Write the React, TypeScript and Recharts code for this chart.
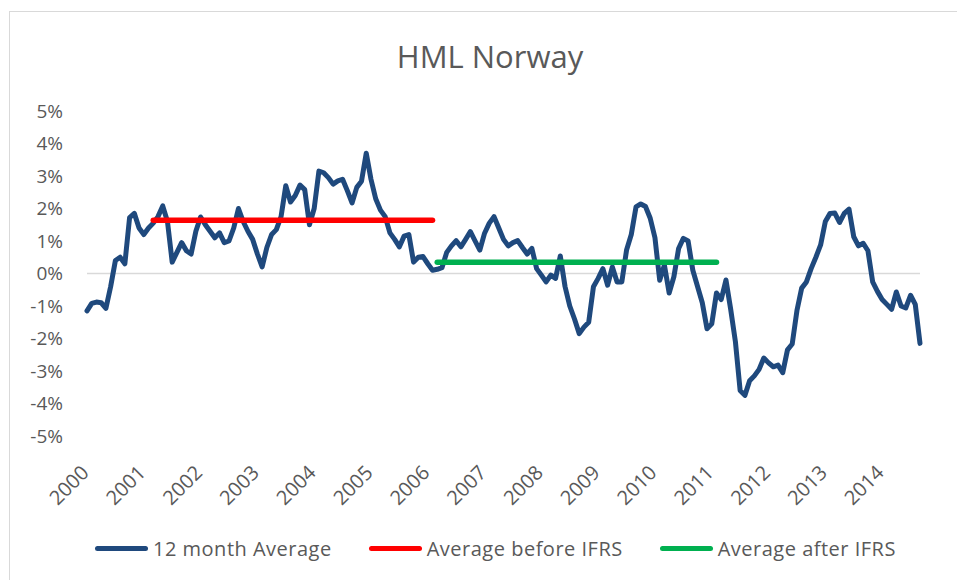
import { LineChart, Line, XAxis, YAxis, Legend, ReferenceLine } from "recharts";

// 12 month average HML return (%), one array per year, Jan..Dec
const y2000 = [-1.15, -0.92, -0.88, -0.9, -1.07, -0.4, 0.4, 0.5, 0.3, 1.72, 1.85, 1.4];
const y2001 = [1.2, 1.4, 1.55, 1.75, 2.08, 1.6, 0.35, 0.65, 0.95, 0.7, 0.6, 1.3];
const y2002 = [1.74, 1.5, 1.3, 1.1, 1.25, 0.95, 1.0, 1.4, 2.0, 1.6, 1.3, 1.05];
const y2003 = [0.6, 0.2, 0.8, 1.2, 1.35, 1.75, 2.7, 2.2, 2.4, 2.72, 2.58, 1.5];
const y2004 = [2.0, 3.15, 3.1, 2.95, 2.75, 2.85, 2.9, 2.55, 2.17, 2.65, 2.84, 3.7];
const y2005 = [2.9, 2.3, 1.95, 1.75, 1.25, 1.05, 0.82, 1.15, 1.2, 0.35, 0.5, 0.52];
const y2006 = [0.3, 0.1, 0.13, 0.18, 0.65, 0.85, 1.01, 0.82, 1.05, 1.29, 1.0, 0.72];
const y2007 = [1.24, 1.55, 1.75, 1.4, 1.05, 0.85, 0.95, 1.01, 0.8, 0.6, 0.77, 0.15];
const y2008 = [-0.05, -0.26, -0.05, -0.15, 0.54, -0.4, -1.0, -1.4, -1.85, -1.65, -1.5, -0.41];
const y2009 = [-0.15, 0.15, -0.36, 0.2, -0.26, -0.26, 0.72, 1.2, 2.05, 2.14, 2.06, 1.7];
const y2010 = [1.1, -0.21, 0.26, -0.6, -0.1, 0.77, 1.08, 1.0, 0.1, -0.4, -0.9, -1.7];
const y2011 = [-1.55, -0.6, -0.8, -0.2, -1.1, -2.1, -3.6, -3.75, -3.3, -3.15, -2.95, -2.6];
const y2012 = [-2.75, -2.87, -2.82, -3.05, -2.35, -2.17, -1.14, -0.45, -0.26, 0.15, 0.5, 0.88];
const y2013 = [1.6, 1.85, 1.86, 1.57, 1.85, 1.98, 1.13, 0.85, 0.93, 0.7, -0.26, -0.55];
const y2014 = [-0.8, -0.95, -1.1, -0.57, -1.0, -1.06, -0.67, -0.95, -2.15];

const years = [2000, 2001, 2002, 2003, 2004, 2005, 2006, 2007, 2008, 2009, 2010, 2011, 2012, 2013, 2014];
const yearValues = [y2000, y2001, y2002, y2003, y2004, y2005, y2006, y2007, y2008, y2009, y2010, y2011, y2012, y2013, y2014];

// averages before / after IFRS and the months they cover
const avgBefore = 1.64;
const beforeFrom = "2001-03";
const beforeTo = "2006-02";
const avgAfter = 0.35;
const afterFrom = "2006-03";
const afterTo = "2011-02";

const yTicks = [-5, -4, -3, -2, -1, 0, 1, 2, 3, 4, 5];

const data = years.flatMap((yr, yi) =>
  yearValues[yi].map((v, m) => {
    const month = `${yr}-${String(m + 1).padStart(2, "0")}`;
    return {
      month,
      hml: v,
      before: month >= beforeFrom && month <= beforeTo ? avgBefore : null,
      after: month >= afterFrom && month <= afterTo ? avgAfter : null,
    };
  })
);

const xTicks = years.map((yr) => `${yr}-01`);

const FONT = "'Open Sans', sans-serif";
const GREY = "#595959";

const legendItems = [
  { label: "12 month Average", color: "#1f497d" },
  { label: "Average before IFRS", color: "#ff0000" },
  { label: "Average after IFRS", color: "#00b050" },
];

const YearTick = (props: any) => {
  const { x, y, payload } = props;
  return (
    <g transform={`translate(${x + 3},${y + 30})`}>
      <text
        x={0}
        y={0}
        textAnchor="end"
        transform="rotate(-45)"
        fill={GREY}
        fontSize={20}
        fontFamily={FONT}
      >
        {payload.value.slice(0, 4)}
      </text>
    </g>
  );
};

const LegendBox = () => (
  <div
    style={{
      display: "flex",
      alignItems: "center",
      height: 24,
      paddingLeft: 95,
      fontFamily: FONT,
      fontSize: 20,
      letterSpacing: 0.5,
      color: GREY,
      whiteSpace: "nowrap",
    }}
  >
    {legendItems.map((it) => (
      <div key={it.label} style={{ display: "flex", alignItems: "center", marginRight: 37 }}>
        <span
          style={{
            display: "inline-block",
            width: 53,
            height: 5,
            borderRadius: 3,
            background: it.color,
            marginRight: 5,
          }}
        />
        <span>{it.label}</span>
      </div>
    ))}
  </div>
);

export default function App() {
  return (
    <div
      style={{
        position: "absolute",
        left: 0,
        top: 0,
        width: 957,
        height: 580,
        overflow: "hidden",
        background: "#fff",
      }}
    >
      <div
        style={{
          position: "absolute",
          left: 9,
          top: 11,
          width: 1000,
          height: 600,
          border: "1px solid #d9d9d9",
        }}
      />
      <div
        style={{
          position: "absolute",
          left: 0,
          width: 980,
          top: 35,
          textAlign: "center",
          fontFamily: FONT,
          fontSize: 31,
          color: GREY,
        }}
      >
        HML Norway
      </div>
      <LineChart
        width={957}
        height={580}
        data={data}
        margin={{ top: 111, right: 37, bottom: 0, left: 27 }}
        style={{ position: "absolute", left: 0, top: 0 }}
      >
        <XAxis
          dataKey="month"
          ticks={xTicks}
          interval={0}
          axisLine={false}
          tickLine={false}
          height={120}
          tick={<YearTick />}
        />
        <YAxis
          domain={[-5, 5]}
          ticks={yTicks}
          width={60}
          axisLine={false}
          tickLine={false}
          tickMargin={18}
          tickFormatter={(v: number) => `${v}%`}
          tick={{ fill: GREY, fontSize: 19, fontFamily: FONT }}
        />
        <ReferenceLine y={0} stroke="#d9d9d9" strokeWidth={1.5} />
        <Legend
          verticalAlign="bottom"
          content={() => <LegendBox />}
          wrapperStyle={{ position: "absolute", top: 536, left: 0, width: 957, height: 24 }}
        />
        <Line
          dataKey="hml"
          name="12 month Average"
          stroke="#1f497d"
          strokeWidth={5}
          strokeLinecap="round"
          strokeLinejoin="round"
          dot={false}
          isAnimationActive={false}
        />
        <Line
          dataKey="before"
          name="Average before IFRS"
          stroke="#ff0000"
          strokeWidth={5.5}
          strokeLinecap="round"
          dot={false}
          isAnimationActive={false}
        />
        <Line
          dataKey="after"
          name="Average after IFRS"
          stroke="#00b050"
          strokeWidth={5.5}
          strokeLinecap="round"
          dot={false}
          isAnimationActive={false}
        />
      </LineChart>
    </div>
  );
}
